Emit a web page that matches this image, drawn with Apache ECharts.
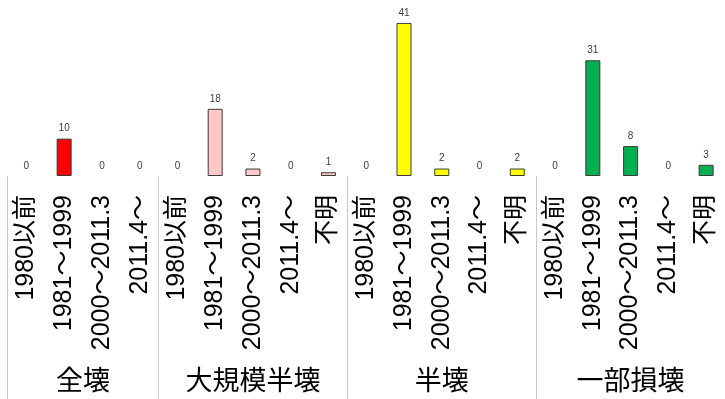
<!DOCTYPE html>
<html>
<head>
<meta charset="utf-8">
<script src="https://cdn.jsdelivr.net/npm/echarts@6/dist/echarts.min.js"></script>
<style>
  html, body { margin: 0; padding: 0; background: #fff; }
  #chart { width: 725px; height: 399px; }
</style>
</head>
<body>
<div id="chart"></div>
<script>
// Damage level groups and building-age periods
const groupNames = ['全壊', '大規模半壊', '半壊', '一部損壊'];
const periodsFull = ['1980以前', '1981～1999', '2000～2011.3', '2011.4～'];
const periodsWithUnknown = ['1980以前', '1981～1999', '2000～2011.3', '2011.4～', '不明'];

// Counts per period within each damage level
const zenkai = [0, 10, 0, 0];
const daikiboHankai = [0, 18, 2, 0, 1];
const hankai = [0, 41, 2, 0, 2];
const ichibuSonkai = [0, 31, 8, 0, 3];

const groupColors = ['#ff0000', '#ffc8c8', '#ffff00', '#00b050'];

const groups = [
  { name: groupNames[0], periods: periodsFull, values: zenkai, color: groupColors[0] },
  { name: groupNames[1], periods: periodsWithUnknown, values: daikiboHankai, color: groupColors[1] },
  { name: groupNames[2], periods: periodsWithUnknown, values: hankai, color: groupColors[2] },
  { name: groupNames[3], periods: periodsWithUnknown, values: ichibuSonkai, color: groupColors[3] }
];

// Flatten into one category axis; remember group boundaries and centres
const categories = [];
const barData = [];
const boundaries = [0];
const centres = [];
const centreNames = {};
groups.forEach(g => {
  const start = categories.length;
  g.periods.forEach((p, i) => {
    categories.push(p);
    const v = g.values[i];
    barData.push({
      value: v,
      // empty bars get no outline so only their "0" label shows
      itemStyle: { color: g.color, borderWidth: v === 0 ? 0 : 1 }
    });
  });
  const end = categories.length;
  boundaries.push(end);
  const c = (start + end) / 2;
  centres.push(c);
  centreNames[c] = g.name;
});
const total = categories.length;

const fontStack = '"Liberation Sans", Arial, "Noto Sans CJK JP", sans-serif';

const chart = echarts.init(document.getElementById('chart'), null, { renderer: 'canvas' });
chart.setOption({
  animation: false,
  backgroundColor: '#ffffff',
  textStyle: { fontFamily: fontStack },
  grid: { left: 7.5, top: 8, width: 725.6, height: 168, containLabel: false },
  xAxis: [
    {
      type: 'category',
      data: categories,
      boundaryGap: true,
      axisLine: { show: false },
      axisTick: { show: false },
      axisLabel: {
        interval: 0,
        rotate: 90,
        margin: 19,
        fontSize: 25,
        color: '#000000',
        fontFamily: fontStack
      }
    },
    {
      type: 'value',
      min: 0,
      max: total,
      position: 'bottom',
      axisLine: { show: false },
      splitLine: { show: false },
      axisTick: {
        show: true,
        customValues: boundaries,
        length: 225,
        lineStyle: { color: '#c8c8c8', width: 1 }
      },
      axisLabel: {
        customValues: centres,
        formatter: v => centreNames[v] || '',
        margin: 193,
        fontSize: 27,
        color: '#000000',
        fontFamily: fontStack
      }
    }
  ],
  yAxis: { type: 'value', min: 0, max: 45, show: false },
  series: [
    {
      type: 'bar',
      xAxisIndex: 0,
      data: barData,
      barWidth: 15,
      itemStyle: { borderColor: '#3a3a3a' },
      label: {
        show: true,
        position: 'top',
        distance: 5,
        fontSize: 10,
        color: '#404040'
      }
    }
  ]
});
</script>
</body>
</html>
